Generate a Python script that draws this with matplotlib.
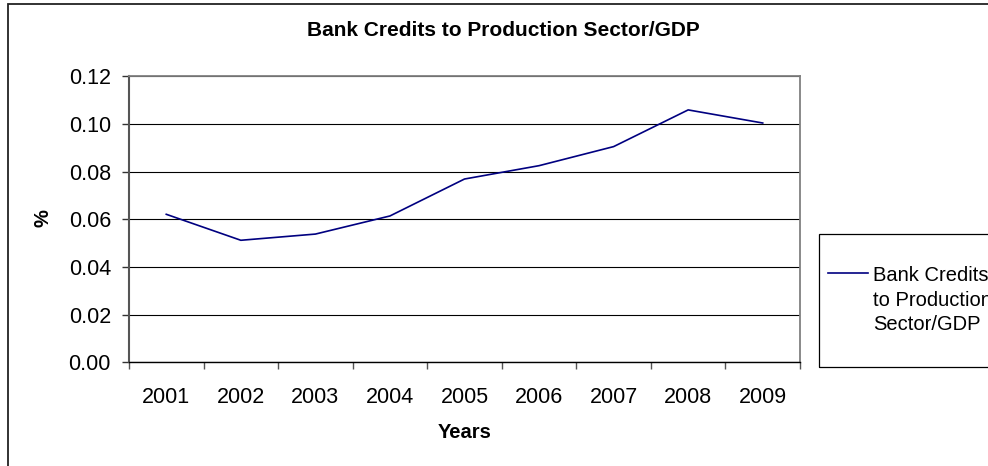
import matplotlib
matplotlib.use("Agg")
import matplotlib.pyplot as plt
from matplotlib.patches import Rectangle
from matplotlib.ticker import FixedLocator, MultipleLocator, FormatStrFormatter

plt.rcParams['font.family'] = ['Liberation Sans', 'DejaVu Sans']

years = ["2001", "2002", "2003", "2004", "2005", "2006", "2007", "2008", "2009"]
credit_ratio = [0.0621, 0.0512, 0.0538, 0.0614, 0.0769, 0.0825, 0.0905, 0.1059, 0.1004]
series_label = "Bank Credits\nto Production\nSector/GDP"

W, H = 988, 466
fig = plt.figure(figsize=(W / 100, H / 100), dpi=100)

def fx(px):
    return px / W

def fy(py):
    return 1 - py / H

# outer chart frame (runs past the right and bottom edges)
fig.patches.append(Rectangle((fx(8), fy(480)), fx(1010) - fx(8), fy(4) - fy(480),
                             transform=fig.transFigure, fill=False,
                             edgecolor="#222222", linewidth=1.3))

ax = fig.add_axes([fx(129), fy(362.3), fx(800) - fx(129), fy(76.3) - fy(362.3)])

x = list(range(len(years)))
ax.plot(x, credit_ratio, color="#000080", linewidth=1.2, label=series_label, zorder=3)

ax.set_xlim(-0.5, len(years) - 0.5)
ax.set_ylim(0, 0.12)

ax.yaxis.set_major_locator(MultipleLocator(0.02))
ax.yaxis.set_major_formatter(FormatStrFormatter("%.2f"))
ax.grid(axis="y", color="black", linewidth=0.8)
ax.set_axisbelow(True)

ax.set_xticks(x)
ax.set_xticklabels(years)
ax.xaxis.set_minor_locator(FixedLocator([i - 0.5 for i in range(len(years) + 1)]))
ax.tick_params(axis="x", which="major", length=0, pad=18, labelsize=15.5)
ax.tick_params(axis="x", which="minor", length=5, width=1.0, color="#555555", direction="out")
ax.tick_params(axis="y", which="major", length=5, width=1.0, color="#333333", pad=8, labelsize=15.5)

for side in ("top", "right"):
    ax.spines[side].set_color("#808080")
    ax.spines[side].set_linewidth(1.3)
ax.spines["left"].set_color("#555555")
ax.spines["left"].set_linewidth(1.5)
ax.spines["bottom"].set_color("black")
ax.spines["bottom"].set_linewidth(1.0)

fig.text(fx(503), fy(31), "Bank Credits to Production Sector/GDP",
         ha="center", va="center", fontsize=15, fontweight="bold")
fig.text(fx(43), fy(218), "%", ha="center", va="center", rotation=90,
         fontsize=14.5, fontweight="bold")
fig.text(fx(465), fy(432), "Years", ha="center", va="center",
         fontsize=14.5, fontweight="bold")

# legend frame, also running past the right edge
fig.patches.append(Rectangle((fx(819), fy(367)), fx(1010) - fx(819), fy(234) - fy(367),
                             transform=fig.transFigure, fill=False,
                             edgecolor="black", linewidth=0.9))
leg = ax.legend(loc="upper left", bbox_to_anchor=(fx(828), fy(266)),
                bbox_transform=fig.transFigure, frameon=False, fontsize=14.5,
                handlelength=2.0, handletextpad=0.25, borderpad=0, borderaxespad=0,
                labelspacing=0)
for column in leg._legend_handle_box.get_children():
    for row in column.get_children():
        row.align = "top"
for t in leg.get_texts():
    t.set_linespacing(1.38)

fig.savefig("out.png", dpi=100)
